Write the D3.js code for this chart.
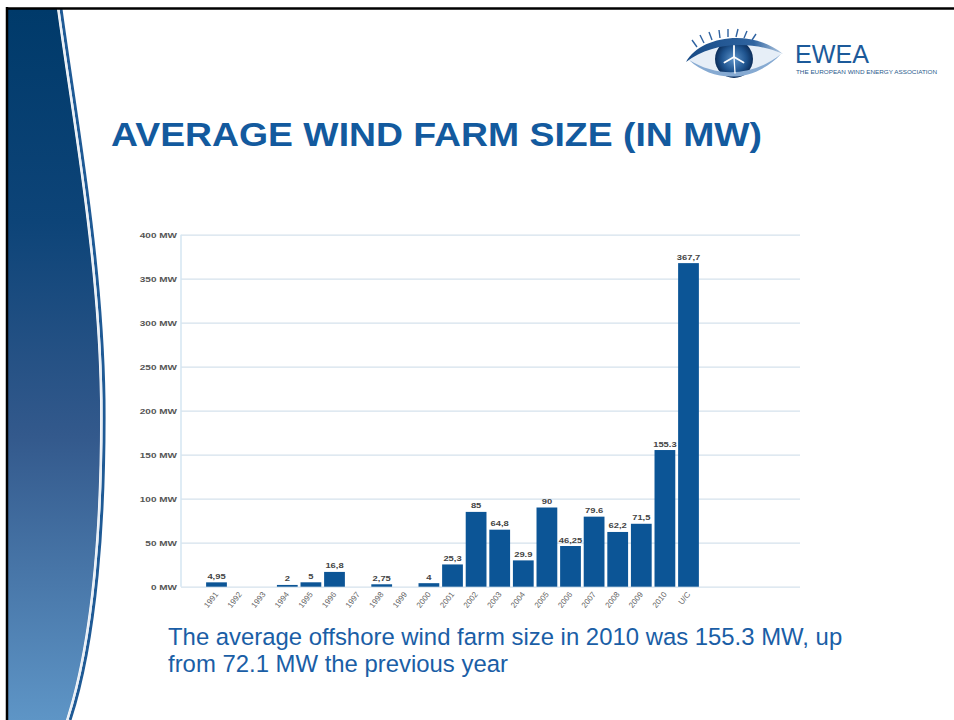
<!DOCTYPE html>
<html>
<head>
<meta charset="utf-8">
<script src="https://cdn.jsdelivr.net/npm/d3@7"></script>
<style>
  html, body { margin: 0; padding: 0; background: #fff; }
  svg { display: block; }
</style>
</head>
<body>
<svg id="slide" width="954" height="720"></svg>
<script>
// Average offshore wind farm size per year (MW); U/C = under construction
const categories = ["1991","1992","1993","1994","1995","1996","1997","1998","1999","2000",
                    "2001","2002","2003","2004","2005","2006","2007","2008","2009","2010","U/C"];
const values     = [4.95, 0, 0, 2, 5, 16.8, 0, 2.75, 0, 4,
                    25.3, 85, 64.8, 29.9, 90, 46.25, 79.6, 62.2, 71.5, 155.3, 367.7];
const valueLabels = ["4,95", "", "", "2", "5", "16,8", "", "2,75", "", "4",
                     "25,3", "85", "64,8", "29.9", "90", "46,25", "79.6", "62,2", "71,5", "155.3", "367,7"];
const yTicks = [0, 50, 100, 150, 200, 250, 300, 350, 400];
const yTickLabels = ["0 MW", "50 MW", "100 MW", "150 MW", "200 MW", "250 MW", "300 MW", "350 MW", "400 MW"];

const titleText = "AVERAGE WIND FARM SIZE (IN MW)";
const captionLines = ["The average offshore wind farm size in 2010 was 155.3 MW, up",
                      "from 72.1 MW the previous year"];

const FONT = "Liberation Sans, Arial, sans-serif";
const svg = d3.select("#slide");
const defs = svg.append("defs");

// ---- slide decoration: left wave panel ----
const grad = defs.append("linearGradient").attr("id", "panelGrad")
  .attr("x1", 0).attr("y1", 0).attr("x2", 0).attr("y2", 1);
grad.append("stop").attr("offset", "0%").attr("stop-color", "#003a6a");
grad.append("stop").attr("offset", "30%").attr("stop-color", "#0d4478");
grad.append("stop").attr("offset", "60%").attr("stop-color", "#33598c");
grad.append("stop").attr("offset", "100%").attr("stop-color", "#5e95c6");

const edge = "M57,9 C72,120 98,260 100,400 C101,520 92,640 66,720";
svg.append("path")
  .attr("d", "M8,9 L57,9 C72,120 98,260 100,400 C101,520 92,640 66,720 L8,720 Z")
  .attr("fill", "url(#panelGrad)");
// outer thin blue rim and white inner stripe
svg.append("path").attr("d", edge).attr("transform", "translate(4,0)")
  .attr("fill", "none").attr("stroke", "#1f5a95").attr("stroke-width", 3);
svg.append("path").attr("d", edge).attr("transform", "translate(1.5,0)")
  .attr("fill", "none").attr("stroke", "#e8eef5").attr("stroke-width", 2);

// black frame lines
svg.append("line").attr("x1", 6).attr("x2", 954).attr("y1", 8.5).attr("y2", 8.5)
  .attr("stroke", "#000").attr("stroke-width", 2.5);
svg.append("line").attr("x1", 7).attr("x2", 7).attr("y1", 7).attr("y2", 720)
  .attr("stroke", "#000").attr("stroke-width", 2.5);

// ---- logo ----
const logo = svg.append("g").attr("class", "logo");
const irisGrad = defs.append("radialGradient").attr("id", "irisGrad");
irisGrad.append("stop").attr("offset", "0%").attr("stop-color", "#5d93c9");
irisGrad.append("stop").attr("offset", "65%").attr("stop-color", "#1f548f");
irisGrad.append("stop").attr("offset", "100%").attr("stop-color", "#0b2d5a");
const lidGrad = defs.append("linearGradient").attr("id", "lidGrad");
lidGrad.append("stop").attr("offset", "0%").attr("stop-color", "#174a86");
lidGrad.append("stop").attr("offset", "70%").attr("stop-color", "#2f64a0");
lidGrad.append("stop").attr("offset", "100%").attr("stop-color", "#b8cde4");

// eye white
logo.append("path")
  .attr("d", "M689,60 C705,40 750,36 781,54 C760,76 722,86 689,60 Z")
  .attr("fill", "#e6eef7");
// iris
logo.append("circle").attr("cx", 734).attr("cy", 59).attr("r", 19).attr("fill", "url(#irisGrad)");
// upper lid
logo.append("path")
  .attr("d", "M686,62 C700,36 752,28 783,54 C752,40 712,42 686,62 Z")
  .attr("fill", "url(#lidGrad)");
// lashes
[[697,47,692,40],[704,43,700,35],[712,40,709,32],[720,38,719,30],[728,37,728,29],[736,37,738,29],[744,38,747,31],[752,40,756,34]]
  .forEach(([x1,y1,x2,y2]) => logo.append("line").attr("x1",x1).attr("y1",y1).attr("x2",x2).attr("y2",y2)
    .attr("stroke", "#2f62a0").attr("stroke-width", 1.4));
// lower lid
logo.append("path")
  .attr("d", "M689,60 C715,84 755,82 781,54 C754,76 718,78 689,60 Z")
  .attr("fill", "#86aad2");
// turbine
const tb = logo.append("g").attr("transform", "translate(734,57)")
  .attr("stroke", "#fff").attr("stroke-width", 1.8).attr("stroke-linecap", "round");
[-90, 30, 150].forEach(a => {
  const r = a * Math.PI / 180;
  tb.append("line").attr("x1", 0).attr("y1", 0).attr("x2", 11 * Math.cos(r)).attr("y2", 11 * Math.sin(r));
});
tb.append("line").attr("x1", 0).attr("y1", 0).attr("x2", 1).attr("y2", 16).attr("stroke-width", 1.3);

logo.append("text").attr("x", 795).attr("y", 63)
  .attr("font-family", FONT).attr("font-size", 25)
  .attr("fill", "#1c5a9a").attr("textLength", 74).attr("lengthAdjust", "spacingAndGlyphs")
  .text("EWEA");
logo.append("text").attr("x", 796).attr("y", 74)
  .attr("font-family", FONT).attr("font-size", 5.5)
  .attr("fill", "#2a5a8c").attr("textLength", 141).attr("lengthAdjust", "spacingAndGlyphs")
  .text("THE EUROPEAN WIND ENERGY ASSOCIATION");

// ---- title ----
svg.append("text").attr("x", 111).attr("y", 146)
  .attr("font-family", FONT).attr("font-weight", "bold")
  .attr("font-size", 34).attr("fill", "#135a9e")
  .attr("textLength", 651).attr("lengthAdjust", "spacingAndGlyphs")
  .text(titleText);

// ---- chart ----
const plot = { left: 181, right: 800, top: 234.7, bottom: 586.7 };
const y = d3.scaleLinear().domain([0, 400]).range([plot.bottom, plot.top]);
const x = d3.scaleBand().domain(categories)
  .range([204.7, 204.7 + 23.6 * categories.length])
  .paddingInner(0.12).paddingOuter(0.06);
const STRETCH = 1.25;   // chart text is set slightly wide

const chart = svg.append("g").attr("class", "chart");

// gridlines
chart.append("g").selectAll("line").data(yTicks).join("line")
  .attr("x1", plot.left).attr("x2", plot.right)
  .attr("y1", d => y(d) + 0.5).attr("y2", d => y(d) + 0.5)
  .attr("stroke", "#d5e2ec").attr("stroke-width", 1.2);
// vertical axis line
chart.append("line").attr("x1", plot.left).attr("x2", plot.left)
  .attr("y1", plot.top).attr("y2", plot.bottom)
  .attr("stroke", "#d5e6f2").attr("stroke-width", 1.5);

// y axis labels
const yAxis = d3.axisLeft(y).tickValues(yTicks).tickSize(0).tickPadding(4)
  .tickFormat((d, i) => yTickLabels[i]);
chart.append("g").attr("transform", `translate(${plot.left},0)`).call(yAxis)
  .call(g => g.select(".domain").remove())
  .call(g => g.selectAll("text")
    .attr("font-family", FONT)
    .attr("font-size", 8).attr("font-weight", "bold").attr("fill", "#555")
    .attr("x", null)
    .attr("transform", `translate(-4,0) scale(${STRETCH},1)`));

// bars
chart.append("g").selectAll("rect").data(categories).join("rect")
  .attr("x", d => x(d))
  .attr("width", x.bandwidth())
  .attr("y", (d, i) => y(values[i]))
  .attr("height", (d, i) => y(0) - y(values[i]))
  .attr("fill", "#0c5596");

// value labels
chart.append("g").selectAll("text").data(categories).join("text")
  .attr("transform", (d, i) =>
    `translate(${x(d) + x.bandwidth() / 2},${y(values[i]) - 3.5}) scale(${STRETCH},1)`)
  .attr("text-anchor", "middle")
  .attr("font-family", FONT)
  .attr("font-size", 7.5).attr("font-weight", "bold").attr("fill", "#444")
  .text((d, i) => valueLabels[i]);

// x axis labels (rotated)
const xAxis = d3.axisBottom(x).tickSize(0).tickPadding(0);
chart.append("g").attr("transform", `translate(0,${plot.bottom + 6})`).call(xAxis)
  .call(g => g.select(".domain").remove())
  .call(g => g.selectAll("text")
    .attr("font-family", FONT)
    .attr("font-size", 8).attr("fill", "#666")
    .attr("text-anchor", "end").attr("y", 0).attr("dy", "0.35em")
    .attr("transform", "rotate(-52)"));

// ---- caption ----
const cap = svg.append("text")
  .attr("font-family", FONT)
  .attr("font-size", 23.9).attr("fill", "#1a5ea6");
captionLines.forEach((t, i) => cap.append("tspan").attr("x", 168).attr("y", 645 + i * 27).text(t));
</script>
</body>
</html>
